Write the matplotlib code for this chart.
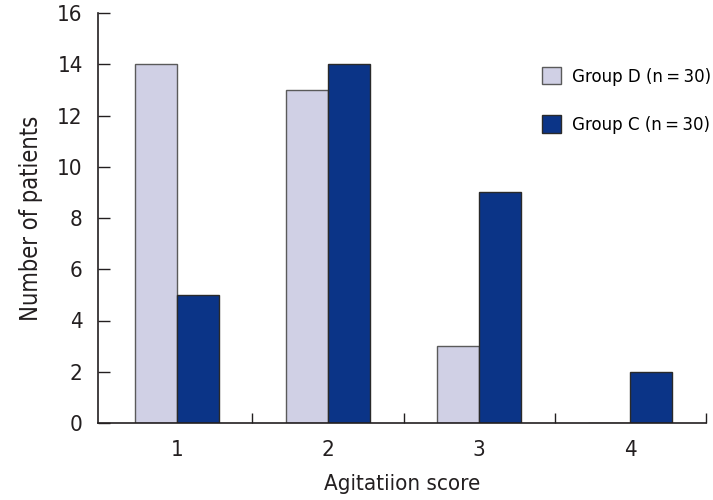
import matplotlib
matplotlib.use("Agg")
import matplotlib.pyplot as plt
import numpy as np
from matplotlib.ticker import FixedLocator

scores = ["1", "2", "3", "4"]
group_d = [14, 13, 3, 0]
group_c = [5, 14, 9, 2]
labels = ["Group D (n\u2009=\u200930)", "Group C (n\u2009=\u200930)"]

plt.rcParams['font.family'] = ['DejaVu Sans']
plt.rcParams['font.stretch'] = 'condensed'

fig = plt.figure(figsize=(7.13, 5.0), dpi=100)
ax = fig.add_axes([98 / 713, 77 / 500, 608 / 713, 410 / 500])

x = np.arange(1, len(scores) + 1)
w = 0.278
ax.bar(x - w / 2, group_d, w, color="#D0D0E5", edgecolor="#5a5a5a", linewidth=1.0, label=labels[0])
ax.bar(x + w / 2, group_c, w, color="#0B3487", edgecolor="#2a2a2a", linewidth=1.0, label=labels[1])

ax.set_xlim(0.477, 4.503)
ax.set_ylim(0, 16)
ax.set_yticks(range(0, 17, 2))
ax.set_xticks(x)
ax.set_xticklabels(scores)
ax.xaxis.set_minor_locator(FixedLocator([1.5, 2.5, 3.5, 4.5]))

for s in ["top", "right"]:
    ax.spines[s].set_visible(False)
for s in ["left", "bottom"]:
    ax.spines[s].set_color("#231f20")
    ax.spines[s].set_linewidth(1.2)

ax.tick_params(axis="y", direction="in", length=8.5, width=1.0, pad=11, labelsize=16, colors="#231f20")
ax.tick_params(axis="x", which="major", length=0, pad=12, labelsize=16, colors="#231f20")
ax.tick_params(axis="x", which="minor", direction="in", length=7, width=1.0, colors="#231f20")

ax.set_ylabel("Number of patients", fontsize=17, color="#231f20", labelpad=10)
ax.set_xlabel("Agitatiion score", fontsize=16, color="#231f20", labelpad=10)

ax.legend(loc="upper left", bbox_to_anchor=(542 / 713, 1 - 67 / 500), bbox_transform=fig.transFigure,
          frameon=False, fontsize=13.3, handlelength=1.05, handleheight=1.05, labelspacing=1.6,
          handletextpad=0.6, borderpad=0, borderaxespad=0)

fig.savefig("out.png", dpi=100)
